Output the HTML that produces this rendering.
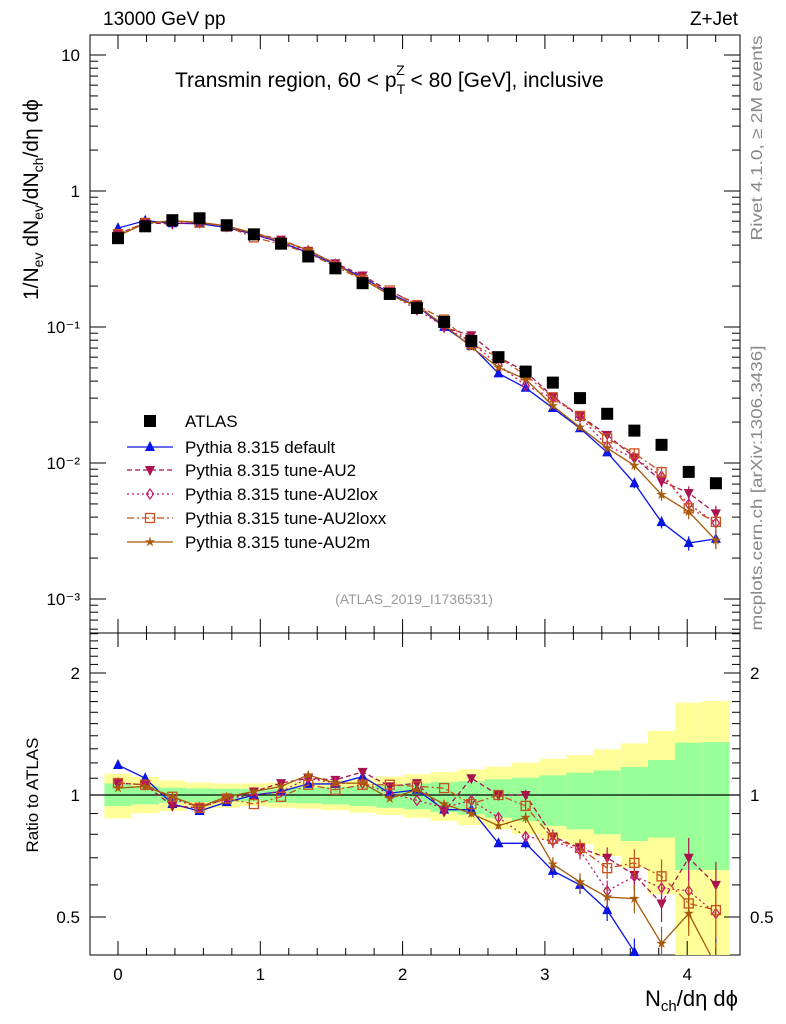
<!DOCTYPE html>
<html><head><meta charset="utf-8">
<style>
body{margin:0;background:#fff;}
svg{display:block;font-family:"Liberation Sans",Arial,sans-serif;}
</style></head>
<body>
<svg id="c" width="786" height="1024" viewBox="0 0 786 1024">
<rect x="90" y="35" width="650" height="598" fill="none" stroke="#000" stroke-width="1"/>
<rect x="90" y="633" width="650" height="322" fill="none" stroke="#000" stroke-width="1"/>
<g id="bands"></g>
<g id="axes"></g>
<g id="series"></g>
<text x="103" y="25" font-size="19">13000 GeV pp</text>
<text x="738" y="25" font-size="19" text-anchor="end">Z+Jet</text>
<text x="175" y="87" font-size="21">Transmin region, 60 &lt; p<tspan font-size="14" dy="7">T</tspan><tspan font-size="14" dx="-9" dy="-19">Z</tspan><tspan dy="12" font-size="21"> &lt; 80 [GeV], inclusive</tspan></text>
<text x="414" y="604" font-size="14" fill="#999" text-anchor="middle">(ATLAS_2019_I1736531)</text>
<text transform="translate(762,138) rotate(-90)" font-size="16" fill="#888" text-anchor="middle" textLength="205" lengthAdjust="spacingAndGlyphs">Rivet 4.1.0, ≥ 2M events</text>
<text transform="translate(762,488) rotate(-90)" font-size="16" fill="#888" text-anchor="middle" textLength="285" lengthAdjust="spacingAndGlyphs">mcplots.cern.ch [arXiv:1306.3436]</text>
<text transform="translate(38,300) rotate(-90)" font-size="21">1/N<tspan font-size="14" dy="5">ev</tspan><tspan dy="-5"> dN</tspan><tspan font-size="14" dy="5">ev</tspan><tspan dy="-5">/dN</tspan><tspan font-size="14" dy="5">ch</tspan><tspan dy="-5">/dη dϕ</tspan></text>
<text transform="translate(38,795) rotate(-90)" font-size="17" text-anchor="middle">Ratio to ATLAS</text>
<text x="738" y="1006" font-size="22" text-anchor="end">N<tspan font-size="15" dy="5">ch</tspan><tspan dy="-5">/dη dϕ</tspan></text>
<g id="legend"></g>
</svg>
<script>
const NS="http://www.w3.org/2000/svg";
const step=1/5.236;
const atlas=[0.45,0.55,0.61,0.63,0.56,0.48,0.41,0.33,0.27,0.21,0.175,0.138,0.109,0.079,0.060,0.047,0.039,0.030,0.023,0.0173,0.0136,0.0086,0.0071];
const rDefault=[1.186,1.10,0.95,0.913,0.96,1.0,1.02,1.065,1.065,1.11,1.01,1.03,0.92,0.92,0.76,0.76,0.65,0.60,0.52,0.41,0.27,0.30,0.39];
const rAU2=[1.07,1.06,0.94,0.93,0.98,1.02,1.07,1.10,1.09,1.14,1.05,1.07,0.91,1.10,1.0,1.0,0.79,0.74,0.70,0.635,0.54,0.70,0.60];
const rAU2lox=[1.07,1.06,0.98,0.93,0.98,1.0,1.02,1.10,1.07,1.07,1.01,0.97,0.93,0.97,0.88,0.79,0.77,0.73,0.58,0.63,0.59,0.58,0.51];
const rAU2loxx=[1.07,1.06,0.99,0.93,0.98,0.95,0.99,1.06,1.03,1.06,1.06,1.05,1.04,0.95,1.0,0.94,0.78,0.74,0.66,0.68,0.63,0.54,0.52];
const rAU2m=[1.04,1.05,0.99,0.935,0.99,1.02,1.05,1.12,1.07,1.07,0.98,1.03,0.95,0.90,0.84,0.88,0.675,0.61,0.56,0.555,0.43,0.51,0.38];
const mcErr=[0.01,0.01,0.01,0.01,0.01,0.01,0.01,0.01,0.01,0.01,0.01,0.01,0.015,0.02,0.02,0.03,0.04,0.05,0.06,0.08,0.1,0.12,0.14];
const yelUp=[1.129,1.108,1.087,1.073,1.068,1.068,1.073,1.079,1.087,1.097,1.110,1.125,1.139,1.157,1.175,1.202,1.229,1.253,1.296,1.341,1.439,1.690,1.706];
const yelLo=[0.876,0.901,0.913,0.922,0.930,0.939,0.930,0.925,0.917,0.905,0.893,0.879,0.863,0.843,0.823,0.800,0.777,0.756,0.707,0.662,0.569,0.3,0.3];
const grnUp=[1.068,1.052,1.042,1.038,1.036,1.036,1.038,1.042,1.046,1.052,1.058,1.068,1.076,1.082,1.093,1.103,1.118,1.135,1.150,1.172,1.220,1.346,1.351];
const grnLo=[0.939,0.948,0.957,0.961,0.963,0.963,0.957,0.954,0.948,0.939,0.930,0.922,0.908,0.896,0.879,0.863,0.839,0.823,0.800,0.770,0.785,0.653,0.653];
const xTicks=[0,1,2,3,4];
const mainTickLabels=["10","1","10⁻¹","10⁻²","10⁻³"];
const ratioTicks=[2,1,0.5];

const X=v=>118+v*142.3;
const Y=v=>191-Math.log10(v)*136;
const R=v=>795-Math.log10(v)*405.3;
const clampR=y=>Math.max(633,Math.min(955,y));
function mk(tag,attrs,parent){const e=document.createElementNS(NS,tag);for(const k in attrs)e.setAttribute(k,attrs[k]);parent.appendChild(e);return e;}
const bands=document.getElementById('bands'),axes=document.getElementById('axes'),ser=document.getElementById('series'),leg=document.getElementById('legend');

atlas.forEach((a,i)=>{
 const x0=Math.max(90,X(i*step-step/2)),x1=Math.min(730,X(i*step+step/2));
 const ty=clampR(R(yelUp[i])),by=clampR(R(yelLo[i]));
 const y=mk('rect',{x:x0,y:ty,width:x1-x0,height:by-ty,fill:'#ffff99'},bands);
 
 
 const tg=clampR(R(grnUp[i])),bg=clampR(R(grnLo[i]));
 const g=mk('rect',{x:x0,y:tg,width:x1-x0,height:bg-tg,fill:'#99ff99'},bands);
 
 
});
mk('line',{x1:90,x2:740,y1:R(1),y2:R(1),stroke:'#000','stroke-width':1.2},bands);

for(let v=-0.2;v<=4.37;v+=0.2){
 const vv=Math.round(v*10)/10;const x=X(vv);if(x<90||x>740)continue;
 const major=Math.abs(vv-Math.round(vv))<1e-6;const L=major?14:7;
 [[35,1],[633,-1],[633,1],[955,-1]].forEach(([y0,d])=>mk('line',{x1:x,x2:x,y1:y0,y2:y0+d*L,stroke:'#000'},axes));
}
xTicks.forEach(t=>{const e=mk('text',{x:X(t),y:980,'font-size':17,'text-anchor':'middle'},axes);e.textContent=t;
 
 });
for(let d=-4;d<=1;d++){for(let m=1;m<10;m++){const v=m*Math.pow(10,d);const y=Y(v);if(y<35||y>633)continue;
 const L=m===1?16:8;mk('line',{x1:90,x2:90+L,y1:y,y2:y,stroke:'#000'},axes);mk('line',{x1:740,x2:740-L,y1:y,y2:y,stroke:'#000'},axes);}}
mainTickLabels.forEach((t,i)=>{const e=mk('text',{x:80,y:Y(Math.pow(10,1-i))+6,'font-size':17,'text-anchor':'end'},axes);e.textContent=t;
 
 });
for(let m=4;m<=25;m++){const v=m/10;const y=R(v);if(y<633||y>955)continue;const major=(m===5||m===10||m===20);const L=major?16:8;
 mk('line',{x1:90,x2:90+L,y1:y,y2:y,stroke:'#000'},axes);mk('line',{x1:740,x2:740-L,y1:y,y2:y,stroke:'#000'},axes);}
ratioTicks.forEach(t=>{[[80,'end'],[750,'start']].forEach(([x,a])=>{const e=mk('text',{x:x,y:R(t)+6,'font-size':17,'text-anchor':a},axes);e.textContent=t;
 
 });});

function marker(p,type,x,y,col){
 const s=5;
 if(type==='sq')return mk('rect',{x:x-6,y:y-6,width:12,height:12,fill:'#000'},p);
 if(type==='tri')return mk('polygon',{points:`${x},${y-s-1} ${x-s},${y+s-1} ${x+s},${y+s-1}`,fill:col},p);
 if(type==='dtri')return mk('polygon',{points:`${x},${y+s+1} ${x-s},${y-s+1} ${x+s},${y-s+1}`,fill:col},p);
 if(type==='dia')return mk('polygon',{points:`${x},${y-5} ${x-3.5},${y} ${x},${y+5} ${x+3.5},${y}`,fill:'none',stroke:col,'stroke-width':1.2},p);
 if(type==='osq')return mk('rect',{x:x-4.5,y:y-4.5,width:9,height:9,fill:'none',stroke:col,'stroke-width':1.3},p);
 if(type==='star'){let pts=[];for(let k=0;k<10;k++){const r=k%2?2:5.5;const a=-Math.PI/2+k*Math.PI/5;pts.push((x+r*Math.cos(a)).toFixed(1)+','+(y+r*Math.sin(a)).toFixed(1));}
  return mk('polygon',{points:pts.join(' '),fill:col},p);}
}
const series=[
 {name:'Pythia 8.315 default',r:rDefault,col:'#0a14e6',dash:'',m:'tri',key:'default'},
 {name:'Pythia 8.315 tune-AU2',r:rAU2,col:'#a8124f',dash:'5,3',m:'dtri',key:'au2'},
 {name:'Pythia 8.315 tune-AU2lox',r:rAU2lox,col:'#c01a6a',dash:'2,3',m:'dia',key:'au2lox'},
 {name:'Pythia 8.315 tune-AU2loxx',r:rAU2loxx,col:'#c8501e',dash:'7,3,2,3',m:'osq',key:'au2loxx'},
 {name:'Pythia 8.315 tune-AU2m',r:rAU2m,col:'#a65a0a',dash:'',m:'star',key:'au2m'}
];
series.forEach(s=>{
 const g=mk('g',{},ser);
 
 
 const ptsM=s.r.map((r,i)=>[X(i*step),Y(atlas[i]*r)]);
 const ptsR=s.r.map((r,i)=>[X(i*step),R(r)]);
 const cp=mk('clipPath',{id:'clipR'+s.key},g);mk('rect',{x:90,y:633,width:650,height:322},cp);
 mk('polyline',{points:ptsM.map(p=>p.join(',')).join(' '),fill:'none',stroke:s.col,'stroke-width':1.3,'stroke-dasharray':s.dash},g);
 mk('polyline',{points:ptsR.map(p=>p.join(',')).join(' '),fill:'none',stroke:s.col,'stroke-width':1.3,'stroke-dasharray':s.dash,'clip-path':`url(#clipR${s.key})`},g);
 s.r.forEach((r,i)=>{
  const x=X(i*step),v=atlas[i]*r,e=mcErr[i];
  if(e>0.015){
   mk('line',{x1:x,x2:x,y1:Y(v*(1+e)),y2:Y(v*(1-e)),stroke:s.col,'stroke-width':1.2},g);
   const a=clampR(R(r*(1+e))),b=clampR(R(r*(1-e)));mk('line',{x1:x,x2:x,y1:a,y2:b,stroke:s.col,'stroke-width':1.2},g);
  }
  const pm=marker(g,s.m,x,Y(v),s.col);
  
  
  if(R(r)>=633&&R(r)<=958){const pr=marker(g,s.m,x,R(r),s.col);
   
   }
 });
});
atlas.forEach((a,i)=>{const p=marker(ser,'sq',X(i*step),Y(a));
 
 });

const legY=[421,447,470,494,518,542];
const ls=[{name:'ATLAS',m:'sq'}].concat(series);
ls.forEach((s,k)=>{
 const y=legY[k];
 const g=mk('g',{},leg);
 
 
 if(k>0)mk('line',{x1:127,x2:173,y1:y,y2:y,stroke:s.col,'stroke-width':1.3,'stroke-dasharray':s.dash},g);
 marker(g,s.m,150,y,s.col);
 const t=mk('text',{x:185,y:y+6,'font-size':17},g);t.textContent=s.name;
});
</script>
</body></html>
